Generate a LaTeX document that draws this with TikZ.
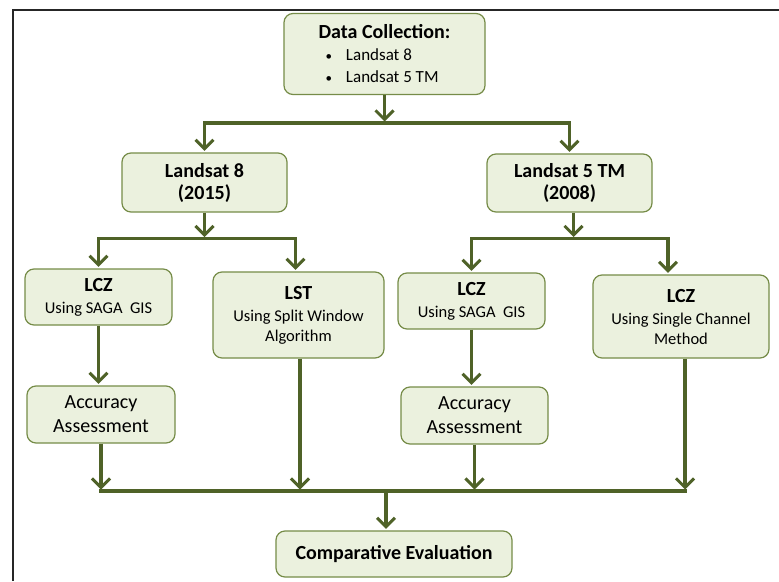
\documentclass[tikz,border=0pt]{standalone}
\usepackage{fontspec}
\setmainfont{Carlito}
\usetikzlibrary{arrows.meta}
\definecolor{arrgreen}{RGB}{79,98,40}
\definecolor{boxfill}{RGB}{235,241,222}
\definecolor{boxline}{RGB}{118,140,72}
\newcommand{\hdbf}{\fontsize{20}{22}\selectfont\bfseries}
\newcommand{\smbul}{{\fontsize{13}{13}\selectfont\textbullet}}
\begin{document}
\begin{tikzpicture}[x=1pt,y=-1pt,
 box/.style={draw=boxline, line width=1.2pt, fill=boxfill, rounded corners=9pt, align=center, inner sep=0pt, font=\fontsize{16.5}{20}\selectfont},
 conn/.style={draw=arrgreen, line width=3.6pt},
 arr/.style={conn, -{Straight Barb[length=9pt,width=18pt,line width=3pt]}, shorten >=1.5pt},
 hline/.style={conn, line cap=rect},
]
\useasboundingbox (0,0) rectangle (779,581);
\fill[white] (0,0) rectangle (779,581);
\draw[line width=2pt, black!85] (13,581) -- (13,10) -- (779,10);

\node[box, minimum width=201pt, minimum height=81pt, font=\fontsize{17}{22}\selectfont] (dc) at (384.5,54)
 {{\hdbf Data Collection:}\\ \makebox[118pt][l]{\smbul\hspace{14pt}Landsat 8}\\ \makebox[118pt][l]{\smbul\hspace{14pt}Landsat 5 TM}};

\node[box, minimum width=165pt, minimum height=59pt] (l8) at (204.5,182.5) {{\hdbf Landsat 8}\\[2pt]{\hdbf (2015)}};
\node[box, minimum width=165pt, minimum height=58pt] (l5) at (569.5,183) {{\hdbf Landsat 5 TM}\\[2pt]{\hdbf (2008)}};

\node[box, minimum width=147pt, minimum height=56pt] (lcz1) at (98.5,297) {{\hdbf LCZ}\\[2pt]Using SAGA\ \ GIS};
\node[box, minimum width=171pt, minimum height=86pt] (lst) at (298.5,315) {{\hdbf LST}\\[2pt]Using Split Window\\Algorithm};
\node[box, minimum width=147pt, minimum height=56pt] (lcz2) at (471.5,301) {{\hdbf LCZ}\\[2pt]Using SAGA\ \ GIS};
\node[box, minimum width=176pt, minimum height=83pt] (sc) at (681,316.5) {{\hdbf LCZ}\\[2pt]Using Single Channel\\Method};

\node[box, minimum width=148pt, minimum height=57pt, font=\fontsize{20}{24}\selectfont] (acc1) at (101,414.5) {Accuracy\\Assessment};
\node[box, minimum width=147pt, minimum height=57pt, font=\fontsize{20}{24}\selectfont] (acc2) at (474.5,415.5) {Accuracy\\Assessment};

\node[box, minimum width=236pt, minimum height=46pt] (ce) at (394,554) {{\hdbf Comparative Evaluation}};

% level 1
\coordinate (j1) at (0,123);
\draw[arr] (dc.south) -- (dc.south |- j1);
\draw[hline] (l8.north |- j1) -- (l5.north |- j1);
\draw[arr] (l8.north |- j1) -- (l8.north);
\draw[arr] (l5.north |- j1) -- (l5.north);

% level 2
\coordinate (j2) at (0,238.5);
\draw[arr] (l8.south) -- (l8.south |- j2);
\draw[hline] (lcz1.north |- j2) -- ([xshift=-3pt]lst.north |- j2);
\draw[arr] (lcz1.north |- j2) -- (lcz1.north);
\draw[arr] ([xshift=-3pt]lst.north |- j2) -- ([xshift=-3pt]lst.north);

\draw[arr] ([xshift=4pt]l5.south) -- ([xshift=4pt]l5.south |- j2);
\draw[hline] (lcz2.north |- j2) -- ([xshift=-13pt]sc.north |- j2);
\draw[arr] (lcz2.north |- j2) -- (lcz2.north);
\draw[arr] ([xshift=-13pt]sc.north |- j2) -- ([xshift=-13pt]sc.north);

% level 3
\draw[arr] (lcz1.south) -- (lcz1.south |- acc1.north);
\draw[arr] (lcz2.south) -- (lcz2.south |- acc2.north);

% level 4
\coordinate (j4) at (0,491);
\draw[hline] (acc1.south |- j4) -- ([xshift=4pt]sc.south |- j4);
\draw[arr] (acc1.south) -- (acc1.south |- j4);
\draw[arr] ([xshift=1.5pt]lst.south) -- ([xshift=1.5pt]lst.south |- j4);
\draw[arr] (acc2.south) -- (acc2.south |- j4);
\draw[arr] ([xshift=4pt]sc.south) -- ([xshift=4pt]sc.south |- j4);
\draw[arr] ([xshift=-8pt]ce.north |- j4) -- ([xshift=-8pt]ce.north);
\end{tikzpicture}
\end{document}
